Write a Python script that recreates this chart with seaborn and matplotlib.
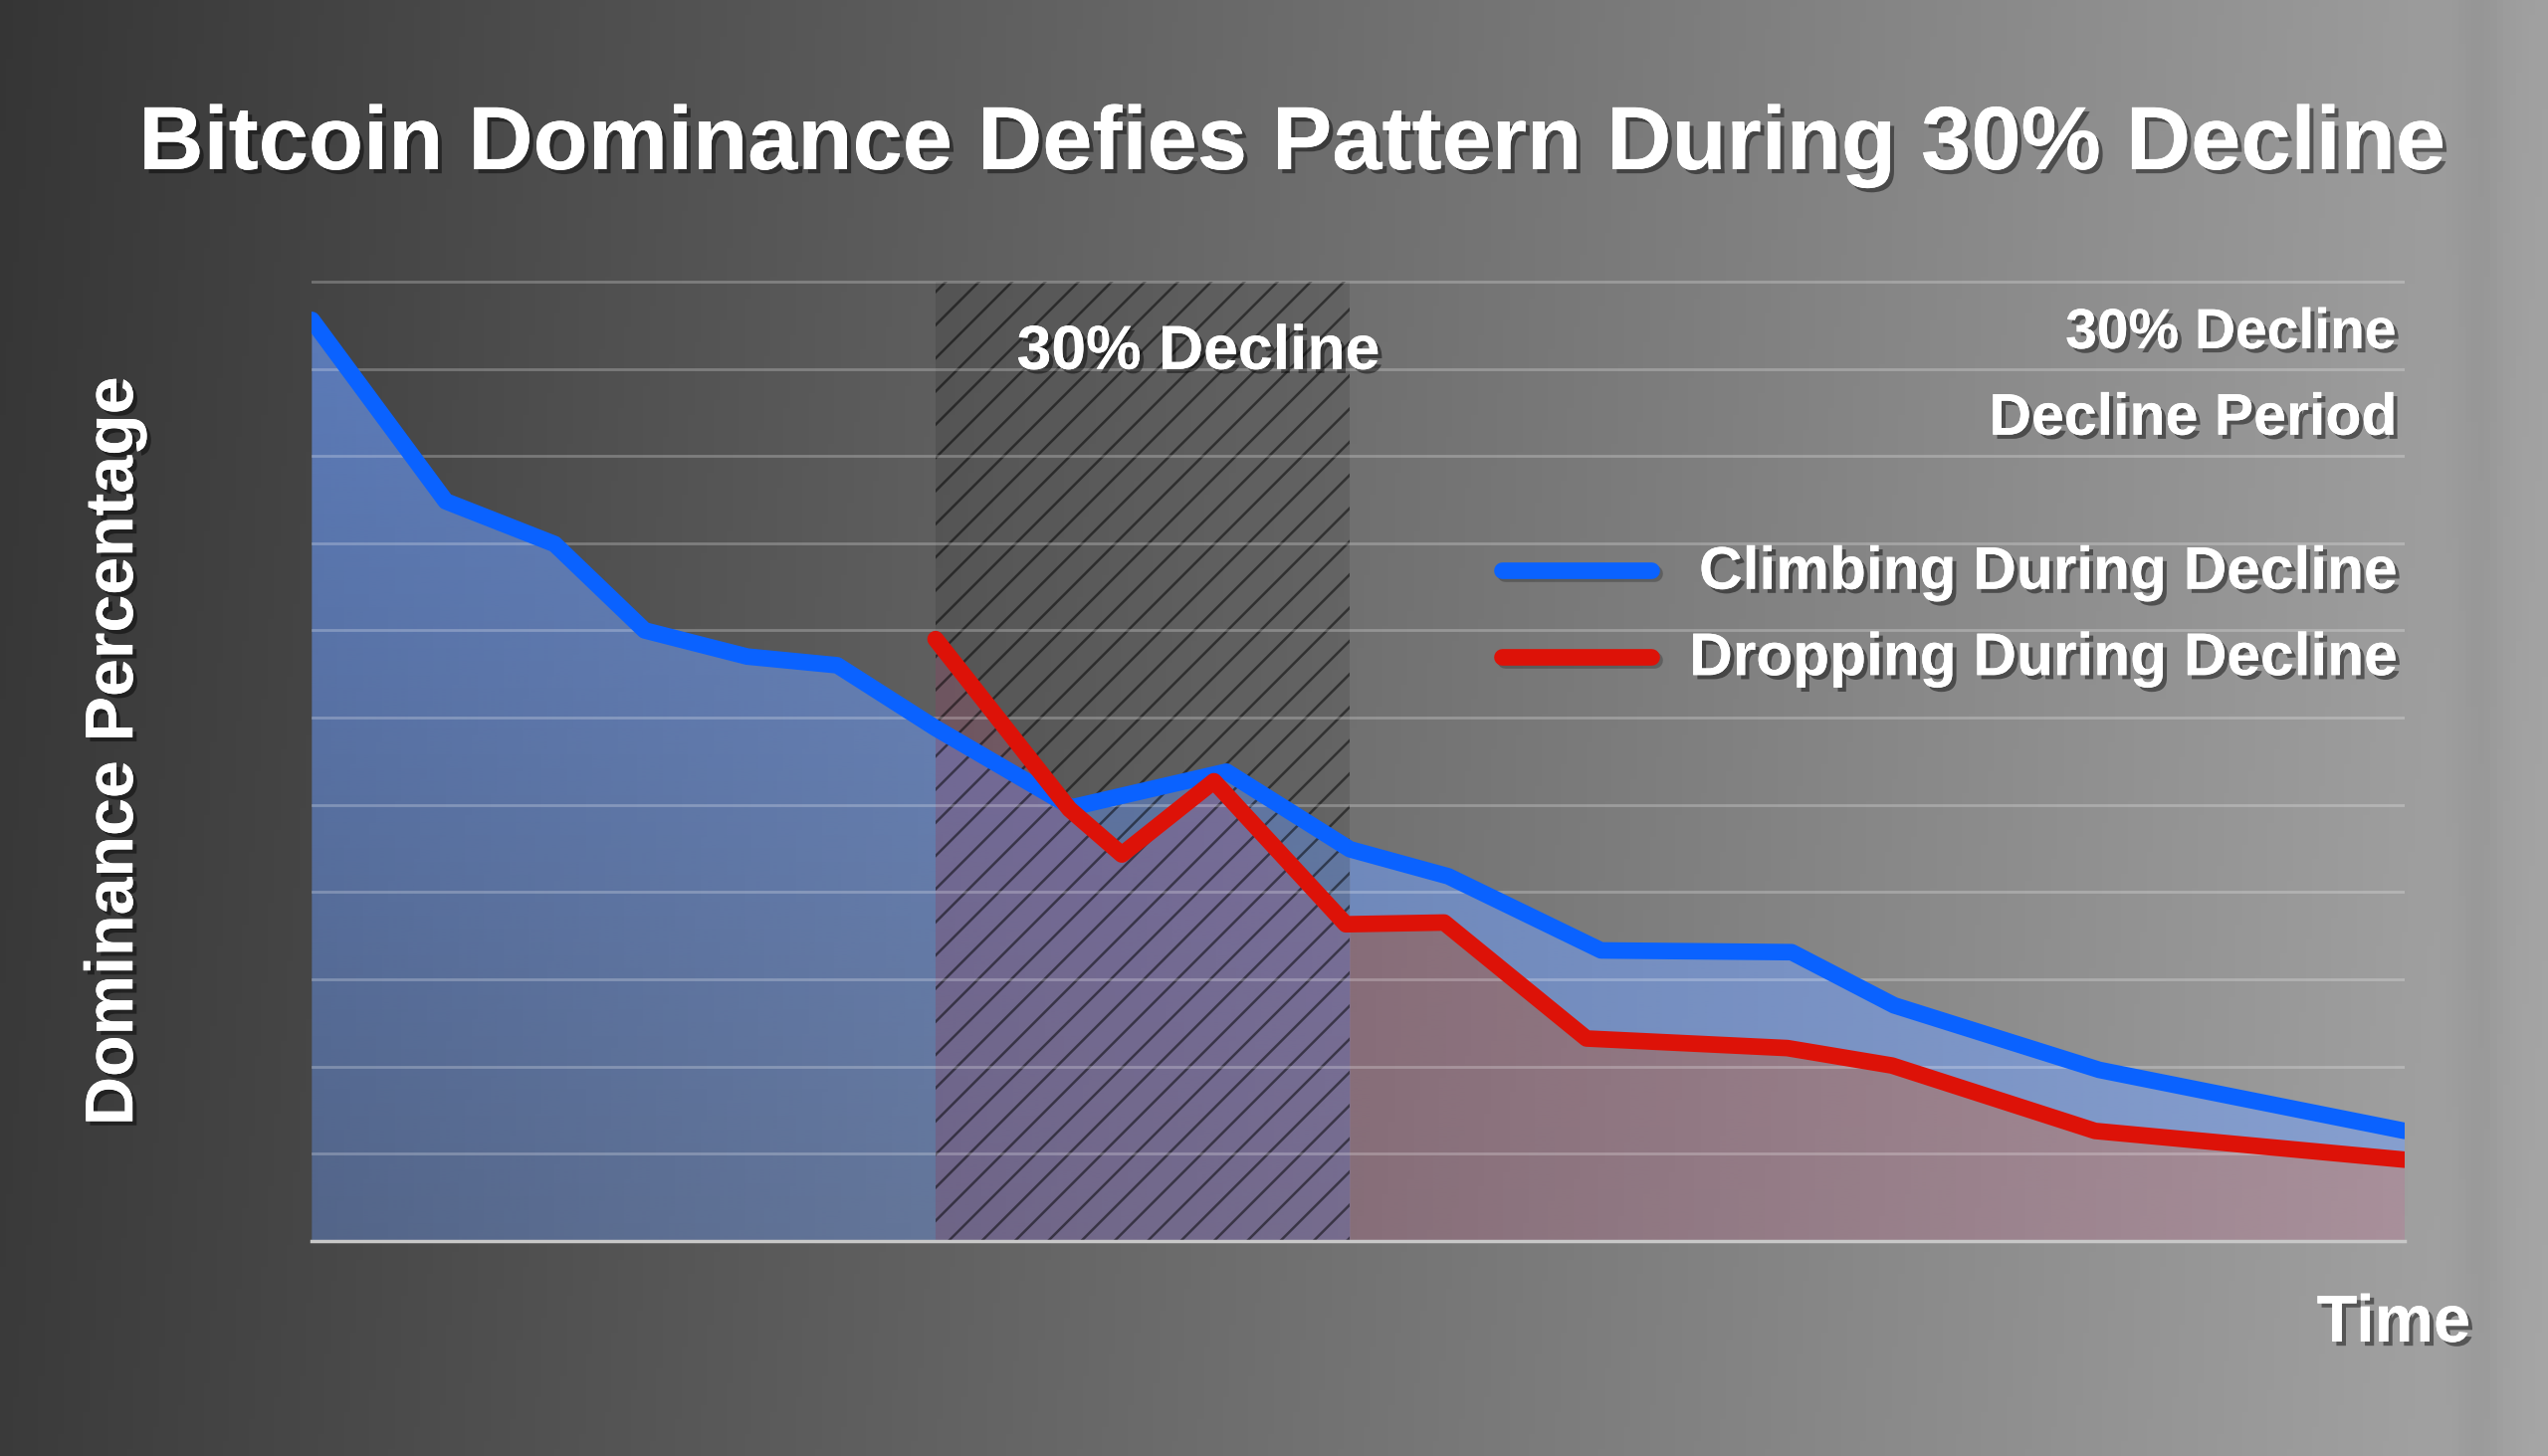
import numpy as np
import pandas as pd
import matplotlib
matplotlib.use("Agg")
import matplotlib.pyplot as plt
import matplotlib.patheffects as pe
from matplotlib.lines import Line2D
from matplotlib.colors import to_rgb
import seaborn as sns

# ---------------- data ----------------
title = "Bitcoin Dominance Defies Pattern During 30% Decline"
y_label = "Dominance Percentage"
x_label = "Time"

climb_x = [0.0, 6.4, 11.6, 15.9, 20.8, 25.1, 29.8, 36.3, 43.7, 49.6, 54.3, 61.6, 70.7, 75.6, 85.4, 100.0]
climb_y = [105.6, 84.8, 79.9, 70.0, 67.0, 66.0, 58.8, 49.7, 53.8, 44.9, 41.8, 33.3, 33.1, 27.0, 19.6, 12.6]

drop_x = [29.8, 36.2, 38.7, 43.1, 49.4, 54.1, 60.9, 70.5, 75.5, 85.2, 100.0]
drop_y = [69.0, 49.5, 44.3, 52.7, 36.3, 36.5, 23.2, 22.1, 20.1, 12.6, 9.3]

decline_start = 29.8
decline_end = 49.6
grid_levels = [10, 20, 30, 40, 50, 60, 70, 80, 90, 100, 110]

series_names = ["Climbing During Decline", "Dropping During Decline"]
annot_inside = "30% Decline"
annot_right = ["30% Decline", "Decline Period"]

BLUE = "#0a62ff"
RED = "#dd1208"

# ---------------- figure ----------------
sns.set_theme(style="white")
plt.rcParams["font.family"] = ["Liberation Sans", "DejaVu Sans"]
plt.rcParams["hatch.linewidth"] = 1.8

W, H = 2560, 1463
fig = plt.figure(figsize=(W / 100, H / 100), dpi=100)

# background gradient
bg_ax = fig.add_axes([0, 0, 1, 1], zorder=-10)
gx = np.linspace(0, 1, 400)
gy = np.linspace(0, 1, 200)
GX, GY = np.meshgrid(gx, gy)
g = 0.23 + 0.42 * GX - 0.02 * GY
g = g - 0.03 * np.exp(-((GX - 0.975) / 0.01) ** 2)
bg = np.dstack([g, g, g])
bg_ax.imshow(np.clip(bg, 0, 1), extent=[0, 1, 0, 1], aspect="auto", origin="lower")
bg_ax.axis("off")

bottom = 0.1478
top_grid = 0.8066
ymax = 111
top = bottom + (top_grid - bottom) * ymax / 110
ax = fig.add_axes([0.1224, bottom, 0.9438 - 0.1224, top - bottom])
ax.patch.set_alpha(0)


def gradient_fill(ax, x, y_low, y_high, color, a_top, a_bot, z):
    coll = ax.fill_between(x, y_low, y_high, color="none", lw=0)
    path = coll.get_paths()[0]
    coll.remove()
    n = 256
    alpha = np.linspace(a_bot, a_top, n)[:, None]
    rgb = np.array(to_rgb(color))
    img = np.zeros((n, 2, 4))
    img[..., :3] = rgb
    img[..., 3] = alpha
    im = ax.imshow(img, extent=[0, 100, 0, 110], aspect="auto", origin="lower", zorder=z,
                   interpolation="bilinear")
    im.set_clip_path(path, transform=ax.transData)


cx = np.array(climb_x)
cy = np.array(climb_y)
dx = np.array(drop_x)
dy = np.array(drop_y)

# blue area: to zero up to end of decline, then between red and blue
xs = np.unique(np.concatenate([cx, dx, [decline_end]]))
left = xs[xs <= decline_end]
right = xs[xs >= decline_end]
gradient_fill(ax, left, np.zeros_like(left), np.interp(left, cx, cy), "#6a9cff", 0.64, 0.36, 1.0)
gradient_fill(ax, right, np.interp(right, dx, dy), np.interp(right, cx, cy), "#6f9fff", 0.58, 0.5, 1.0)
# red area under red line
gradient_fill(ax, dx, np.zeros_like(dx), dy, "#c8628f", 0.30, 0.24, 1.2)

# hatched decline window
ax.fill_between([decline_start, decline_end], 0, 110, facecolor=(0, 0, 0, 0.10),
                edgecolor=(0, 0, 0, 0.5), hatch="/", lw=0, zorder=1.5)

# lines
df_c = pd.DataFrame({"t": climb_x, "v": climb_y})
df_d = pd.DataFrame({"t": drop_x, "v": drop_y})
sns.lineplot(data=df_c, x="t", y="v", ax=ax, color=BLUE, lw=12, estimator=None, sort=False,
             solid_capstyle="round", solid_joinstyle="round", zorder=4)
sns.lineplot(data=df_d, x="t", y="v", ax=ax, color=RED, lw=12, estimator=None, sort=False,
             solid_capstyle="round", solid_joinstyle="round", zorder=4.2)

ax.set_xlim(0, 100)
ax.set_ylim(0, ymax)
ax.set_yticks(grid_levels)
ax.set_xticks([0, 100])
ax.set_xticklabels([])
ax.set_yticklabels([])
ax.set_xlabel("")
ax.set_ylabel("")
ax.set_axisbelow(False)
ax.yaxis.grid(True, color="white", alpha=0.25, lw=2)
ax.xaxis.grid(False)
ax.tick_params(axis="y", length=0)
ax.tick_params(axis="x", length=6, width=2, color="#c8c8c8", direction="out")
for s in ["top", "left", "right"]:
    ax.spines[s].set_visible(False)
ax.spines["bottom"].set_color("#c8c8c8")
ax.spines["bottom"].set_linewidth(2.5)

# ---------------- text ----------------
shadow = [pe.withSimplePatchShadow(offset=(3, -3), shadow_rgbFace="black", alpha=0.45), pe.Normal()]
tkw = dict(color="white", fontweight="bold", path_effects=shadow)

fig.text(0.507, 0.8838, title, ha="center", va="baseline", fontsize=65, **tkw)
fig.text(0.052, 0.484, y_label, rotation=90, rotation_mode="anchor", ha="center",
         va="baseline", fontsize=49, **tkw)
fig.text(0.9695, 0.0786, x_label, ha="right", va="baseline", fontsize=48, **tkw)
fig.text(0.4703, 0.7466, annot_inside, ha="center", va="baseline", fontsize=45, **tkw)
fig.text(0.9406, 0.7608, annot_right[0], ha="right", va="baseline", fontsize=41, **tkw)
fig.text(0.9406, 0.7015, annot_right[1], ha="right", va="baseline", fontsize=42.5, **tkw)

# legend
for name, col, yb, yl in [(series_names[0], BLUE, 0.5956, 0.6081),
                          (series_names[1], RED, 0.5364, 0.5489)]:
    fig.add_artist(Line2D([0.5895, 0.6480], [yl, yl], color=col, lw=12,
                          solid_capstyle="round", transform=fig.transFigure,
                          path_effects=[pe.SimpleLineShadow(offset=(2, -2), alpha=0.3), pe.Normal()]))
    fig.text(0.9406, yb, name, ha="right", va="baseline", fontsize=43.5, **tkw)

fig.savefig("out.png", dpi=100)
